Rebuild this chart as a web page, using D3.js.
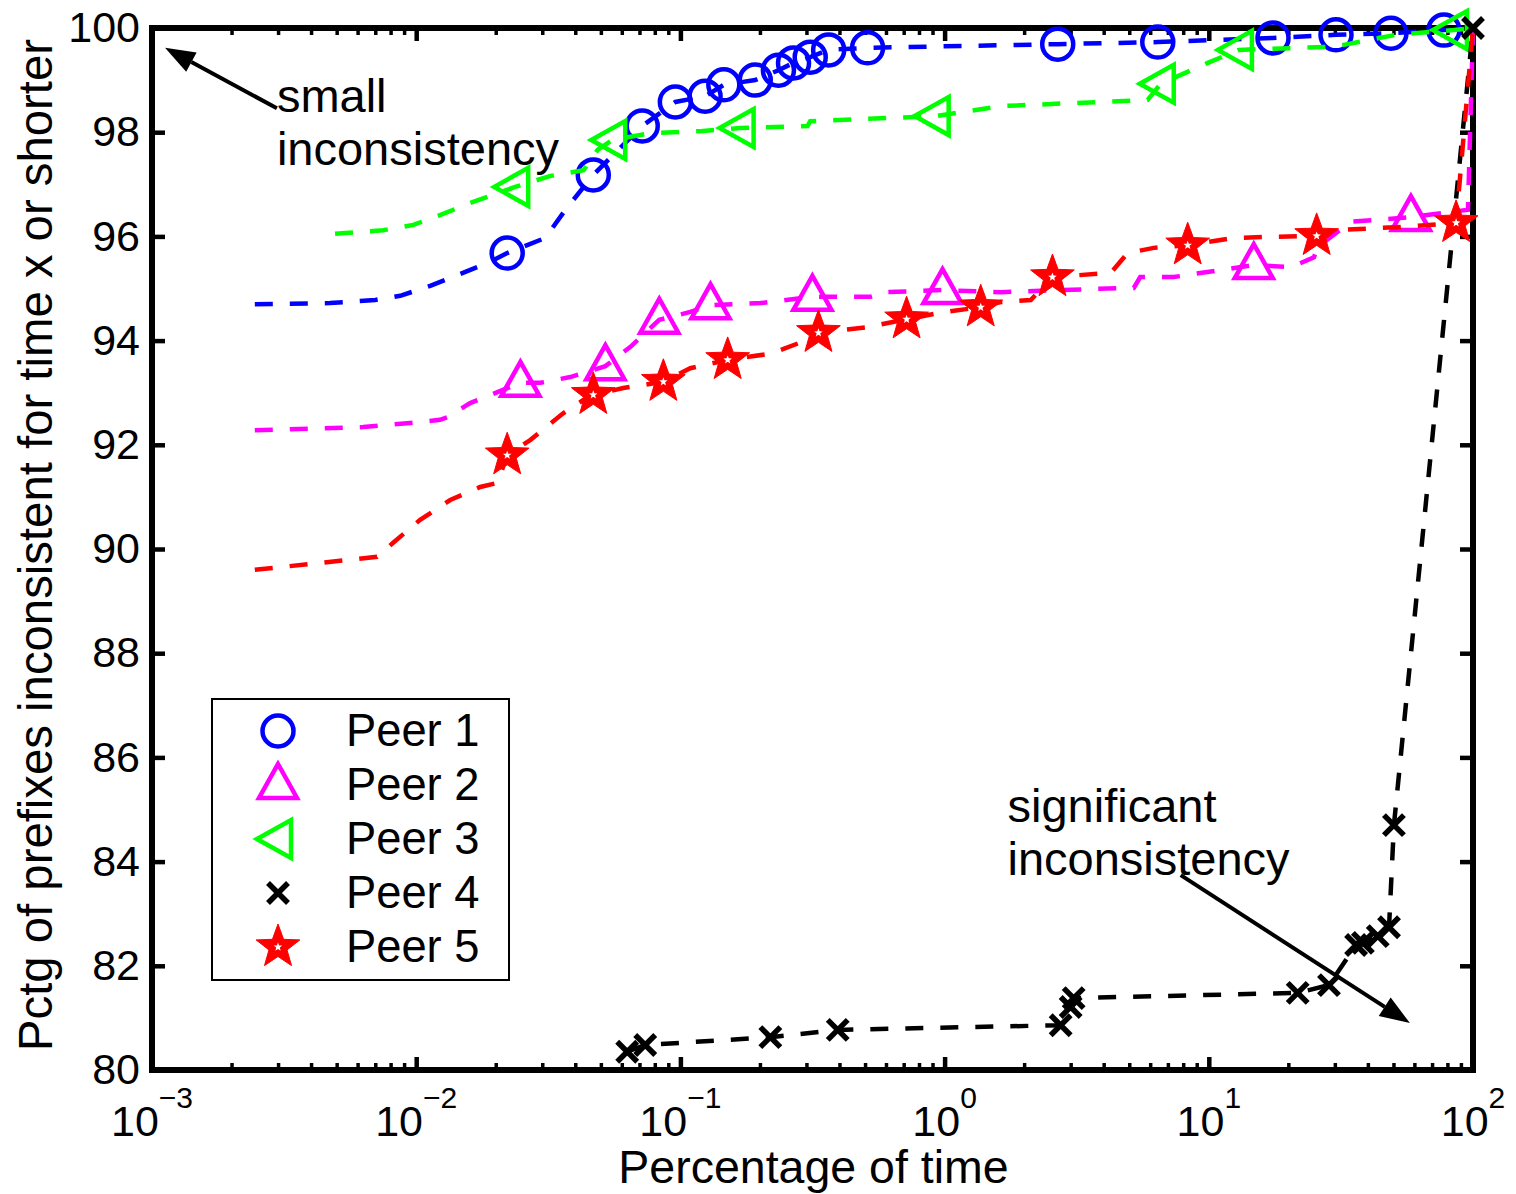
<!DOCTYPE html>
<html>
<head>
<meta charset="utf-8">
<script src="https://cdn.jsdelivr.net/npm/d3@7"></script>
<style>
  body { margin: 0; background: #fff; }
  svg { display: block; font-family: "Liberation Sans", Arial, Helvetica, sans-serif; }
</style>
</head>
<body>
<div id="chart"></div>
<script>
// series: [percentage of time, pctg of prefixes]
const peerNames = ["Peer 1", "Peer 2", "Peer 3", "Peer 4", "Peer 5"];
const peerColors = ["#0000ff", "#ff00ff", "#00ff00", "#000000", "#ff0000"];
const peerMarkers = ["circle", "up", "left", "cross", "star"];

const peer1Line = [[0.00245, 94.70], [0.00472, 94.72], [0.0070, 94.78], [0.0087, 94.86], [0.0113, 95.05],
  [0.0147, 95.28], [0.019, 95.51], [0.0221, 95.68], [0.0308, 95.97], [0.0367, 96.51], [0.0468, 97.18],
  [0.0717, 98.12], [0.0957, 98.58], [0.124, 98.69], [0.146, 98.91], [0.192, 99.0], [0.235, 99.19],
  [0.268, 99.33], [0.310, 99.44], [0.364, 99.58], [0.511, 99.62], [2.68, 99.69], [6.41, 99.73],
  [17.5, 99.81], [30.3, 99.87], [48.9, 99.90], [77.6, 99.96], [100, 100]];
const peer1Marks = [[0.0221, 95.68], [0.0468, 97.18], [0.0717, 98.12], [0.0957, 98.58], [0.124, 98.69],
  [0.146, 98.91], [0.192, 99.0], [0.235, 99.19], [0.268, 99.33], [0.310, 99.44], [0.364, 99.58],
  [0.511, 99.62], [2.68, 99.69], [6.41, 99.73], [17.5, 99.81], [30.3, 99.87], [48.9, 99.90], [77.6, 99.96]];

const peer2Line = [[0.00245, 92.28], [0.0063, 92.34], [0.00948, 92.42], [0.0123, 92.48], [0.0131, 92.53],
  [0.016, 92.80], [0.0203, 93.01], [0.0248, 93.19], [0.0295, 93.19], [0.0383, 93.30], [0.052, 93.51],
  [0.0647, 93.88], [0.0832, 94.40], [0.109, 94.55], [0.130, 94.68], [0.201, 94.72], [0.316, 94.84],
  [0.525, 94.84], [0.60, 94.93], [0.982, 94.97], [1.63, 94.93], [4.76, 95.01], [5.2, 95.01], [5.5, 95.22],
  [7.36, 95.22], [14.8, 95.45], [20.5, 95.41], [25.0, 95.60], [25.9, 95.80], [34.5, 96.28],
  [58.2, 96.37], [95.7, 96.51], [100, 100]];
const peer2Marks = [[0.0248, 93.19], [0.052, 93.51], [0.0832, 94.40], [0.130, 94.68], [0.316, 94.84],
  [0.982, 94.97], [14.8, 95.45], [58.2, 96.37]];

const peer3Line = [[0.00493, 96.05], [0.0075, 96.12], [0.00975, 96.22], [0.0123, 96.41], [0.016, 96.64],
  [0.0237, 96.95], [0.0322, 97.16], [0.043, 97.27], [0.0486, 97.66], [0.0552, 97.85], [0.0769, 97.98],
  [0.119, 98.02], [0.169, 98.08], [0.303, 98.12], [0.310, 98.21], [0.925, 98.31], [1.63, 98.50],
  [5.87, 98.62], [6.58, 98.93], [9.91, 99.33], [13.0, 99.58], [29.7, 99.64], [51.1, 99.87],
  [84.7, 99.96], [100, 100]];
const peer3Marks = [[0.0237, 96.95], [0.0552, 97.85], [0.169, 98.08], [0.925, 98.31], [6.58, 98.93],
  [13.0, 99.58], [84.7, 99.96]];

const peer4Line = [[0.0629, 80.35], [0.0736, 80.48], [0.219, 80.63], [0.394, 80.77], [2.75, 80.86],
  [3.0, 81.21], [3.08, 81.38], [21.7, 81.48], [28.5, 81.63], [36.1, 82.40], [38.3, 82.44],
  [43.6, 82.57], [48.1, 82.74], [50.2, 84.70], [100, 100]];
const peer4Marks = peer4Line;

const peer5Line = [[0.00245, 89.60], [0.00711, 89.85], [0.00818, 90.12], [0.01035, 90.56], [0.01345, 90.94],
  [0.01747, 91.19], [0.0203, 91.27], [0.0221, 91.80], [0.027, 92.09], [0.0361, 92.61], [0.0429, 92.86],
  [0.0468, 92.96], [0.0608, 93.09], [0.0862, 93.21], [0.109, 93.47], [0.151, 93.63], [0.22, 93.75],
  [0.28, 93.95], [0.333, 94.15], [0.5, 94.25], [0.718, 94.41], [1.0, 94.55], [1.37, 94.64],
  [1.63, 94.74], [2.12, 94.78], [2.56, 95.22], [4.26, 95.30], [4.93, 95.68], [6.19, 95.78],
  [8.32, 95.83], [12.4, 95.97], [16.7, 95.99], [25.6, 96.01], [29.7, 96.12], [53.3, 96.18],
  [86.3, 96.26], [100, 100]];
const peer5Marks = [[0.0221, 91.80], [0.0468, 92.96], [0.0862, 93.21], [0.151, 93.63], [0.333, 94.15],
  [0.718, 94.41], [1.37, 94.64], [2.56, 95.22], [8.32, 95.83], [25.6, 96.01], [86.3, 96.26]];

const peerLines = [peer1Line, peer2Line, peer3Line, peer4Line, peer5Line];
const peerMarks = [peer1Marks, peer2Marks, peer3Marks, peer4Marks, peer5Marks];

const yTicks = [80, 82, 84, 86, 88, 90, 92, 94, 96, 98, 100];
const xDecades = [1e-3, 1e-2, 1e-1, 1, 10, 100];
const xExponents = ["\u22123", "\u22122", "\u22121", "0", "1", "2"];

// annotations: arrow tail, arrow tip, text anchor (data units)
const notes = [
  { lines: ["small", "inconsistency"], text: [0.00297, 98.39], tail: [0.00297, 98.46], tip: [0.00112, 99.62] },
  { lines: ["significant", "inconsistency"], text: [1.73, 84.76], tail: [7.83, 83.74], tip: [57.7, 80.90] }
];

const width = 1516, height = 1194;
const mLeft = 152, mRight = 1473, mTop = 28, mBottom = 1070;

const svg = d3.select("#chart").append("svg")
  .attr("width", width)
  .attr("height", height);

svg.append("rect").attr("width", width).attr("height", height).attr("fill", "#fff");

const x = d3.scaleLog().domain([1e-3, 1e2]).range([mLeft, mRight]);
const y = d3.scaleLinear().domain([80, 100]).range([mBottom, mTop]);

const minorTicks = [];
xDecades.slice(0, -1).forEach(d => {
  for (let k = 2; k <= 9; k++) minorTicks.push(k * d);
});

// ticks, inward on all four sides
function tickStyle(g, w) {
  g.select(".domain").remove();
  g.selectAll(".tick line").attr("stroke", "#000").attr("stroke-width", w);
}

svg.append("g").attr("transform", `translate(0,${mBottom})`)
  .call(d3.axisBottom(x).tickValues(minorTicks).tickSize(-7).tickFormat(""))
  .call(g => tickStyle(g, 3.5));
svg.append("g").attr("transform", `translate(0,${mBottom})`)
  .call(d3.axisBottom(x).tickValues(xDecades).tickSize(-13).tickFormat(""))
  .call(g => tickStyle(g, 4.5));
svg.append("g").attr("transform", `translate(0,${mTop})`)
  .call(d3.axisTop(x).tickValues(minorTicks).tickSize(-7).tickFormat(""))
  .call(g => tickStyle(g, 3.5));
svg.append("g").attr("transform", `translate(0,${mTop})`)
  .call(d3.axisTop(x).tickValues(xDecades).tickSize(-13).tickFormat(""))
  .call(g => tickStyle(g, 4.5));

svg.append("g").attr("transform", `translate(${mLeft},0)`)
  .call(d3.axisLeft(y).tickValues(yTicks).tickSize(-13).tickPadding(12))
  .call(g => tickStyle(g, 4.5))
  .call(g => g.selectAll(".tick text")
    .attr("fill", "#000")
    .attr("font-size", 43)
    .attr("font-family", "Liberation Sans, Arial, sans-serif"));
svg.append("g").attr("transform", `translate(${mRight},0)`)
  .call(d3.axisRight(y).tickValues(yTicks).tickSize(-13).tickFormat(""))
  .call(g => tickStyle(g, 4.5));

// x tick labels 10^n
const xl = svg.append("g").attr("font-size", 43);
xDecades.forEach((d, i) => {
  const t = xl.append("text")
    .attr("x", x(d))
    .attr("y", 1136)
    .attr("text-anchor", "middle");
  t.append("tspan").text("10");
  t.append("tspan").attr("dy", -28).attr("font-size", 30).text(xExponents[i]);
});

// frame
svg.append("rect")
  .attr("x", mLeft).attr("y", mTop)
  .attr("width", mRight - mLeft).attr("height", mBottom - mTop)
  .attr("fill", "none")
  .attr("stroke", "#000")
  .attr("stroke-width", 6);

// axis titles
svg.append("text")
  .attr("x", (mLeft + mRight) / 2 + 1)
  .attr("y", 1183)
  .attr("text-anchor", "middle")
  .attr("font-size", 46.5)
  .text("Percentage of time");

svg.append("text")
  .attr("transform", "translate(52,545) rotate(-90)")
  .attr("text-anchor", "middle")
  .attr("font-size", 47.3)
  .text("Pctg of prefixes inconsistent for time x or shorter");

// marker drawing
function starPath(ro, ri) {
  const pts = [];
  for (let i = 0; i < 10; i++) {
    const r = i % 2 === 0 ? ro : ri;
    const a = -Math.PI / 2 + i * Math.PI / 5;
    pts.push([r * Math.cos(a), r * Math.sin(a)]);
  }
  return "M" + pts.map(p => p.join(",")).join("L") + "Z";
}

function drawMarker(g, type, color) {
  if (type === "circle") {
    g.append("circle").attr("r", 15.5).attr("fill", "none")
      .attr("stroke", color).attr("stroke-width", 4.5);
  } else if (type === "up") {
    g.append("path").attr("d", "M0,-21L19,13L-19,13Z").attr("fill", "none")
      .attr("stroke", color).attr("stroke-width", 4.5);
  } else if (type === "left") {
    g.append("path").attr("d", "M-21,0L13,-19L13,19Z").attr("fill", "none")
      .attr("stroke", color).attr("stroke-width", 4.5);
  } else if (type === "cross") {
    g.append("path").attr("d", "M-10,-10L10,10M-10,10L10,-10").attr("fill", "none")
      .attr("stroke", color).attr("stroke-width", 5.5);
  } else if (type === "star") {
    g.append("path").attr("d", starPath(23, 9.5)).attr("fill", color)
      .attr("stroke", color).attr("stroke-width", 1);
    g.append("path").attr("d", starPath(4.5, 1.9)).attr("fill", "#fff");
  }
}

const line = d3.line().x(d => x(d[0])).y(d => y(d[1]));

peerLines.forEach((pts, i) => {
  svg.append("path")
    .datum(pts)
    .attr("d", line)
    .attr("fill", "none")
    .attr("stroke", peerColors[i])
    .attr("stroke-width", 4.5)
    .attr("stroke-dasharray", "18,17");

  svg.append("g").selectAll("g")
    .data(peerMarks[i])
    .join("g")
    .attr("transform", d => `translate(${x(d[0])},${y(d[1])})`)
    .each(function () { drawMarker(d3.select(this), peerMarkers[i], peerColors[i]); });
});

// annotations
notes.forEach(n => {
  const x0 = x(n.tail[0]), y0 = y(n.tail[1]);
  const x1 = x(n.tip[0]), y1 = y(n.tip[1]);
  const a = Math.atan2(y1 - y0, x1 - x0);
  const hl = 30, hw = 11;
  const bx = x1 - hl * Math.cos(a), by = y1 - hl * Math.sin(a);
  svg.append("line")
    .attr("x1", x0).attr("y1", y0).attr("x2", bx).attr("y2", by)
    .attr("stroke", "#000").attr("stroke-width", 4);
  svg.append("path")
    .attr("d", `M${x1},${y1}L${bx - hw * Math.sin(a)},${by + hw * Math.cos(a)}L${bx + hw * Math.sin(a)},${by - hw * Math.cos(a)}Z`)
    .attr("fill", "#000");
  n.lines.forEach((s, k) => {
    svg.append("text")
      .attr("x", x(n.text[0]))
      .attr("y", y(n.text[1]) + k * 53)
      .attr("font-size", 47)
      .text(s);
  });
});

// legend
const legend = svg.append("g");
legend.append("rect")
  .attr("x", 212).attr("y", 699)
  .attr("width", 297).attr("height", 281)
  .attr("fill", "#fff")
  .attr("stroke", "#000")
  .attr("stroke-width", 2);
peerNames.forEach((name, i) => {
  const cy = 731 + i * 54;
  const g = legend.append("g").attr("transform", `translate(278,${cy})`);
  drawMarker(g, peerMarkers[i], peerColors[i]);
  legend.append("text")
    .attr("x", 346)
    .attr("y", cy + 15)
    .attr("font-size", 45.3)
    .text(name);
});
</script>
</body>
</html>
